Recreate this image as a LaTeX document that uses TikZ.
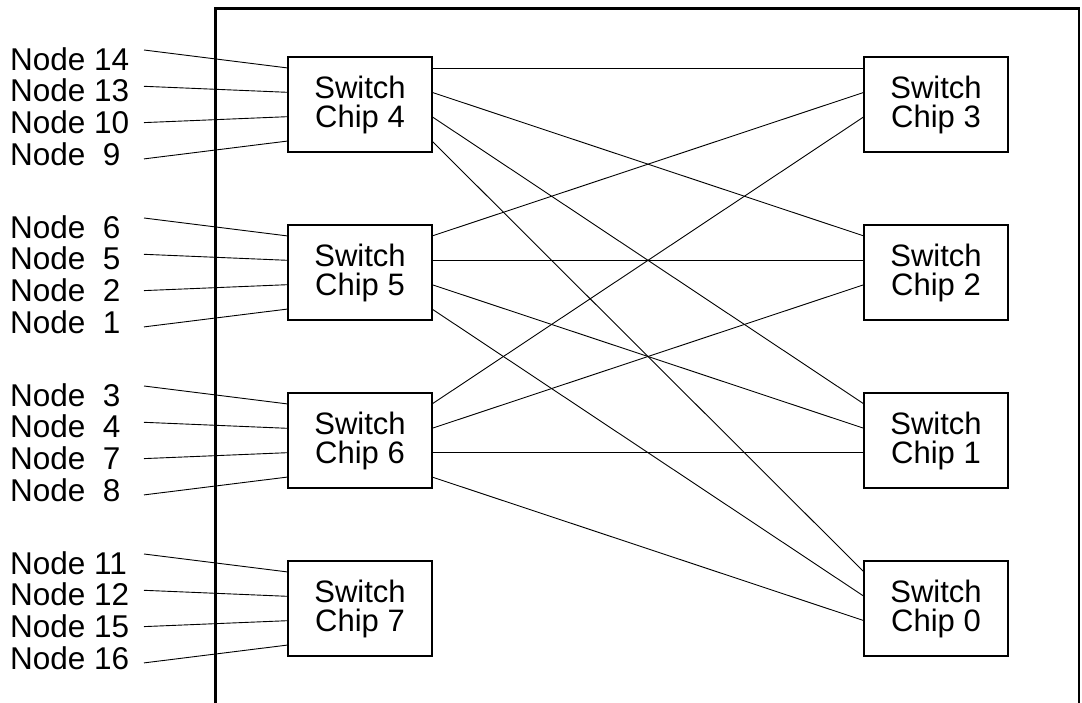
\documentclass[tikz,border=0pt]{standalone}
\usepackage{fontspec}
\setmainfont{Liberation Sans}
\begin{document}
\begin{tikzpicture}[x=1pt,y=-1pt,
  chip/.style={draw,line width=1.8pt,minimum width=144pt,minimum height=95pt,inner sep=0pt,outer sep=0pt,align=center,font=\fontsize{31}{29}\selectfont},
  lbl/.style={anchor=base west,inner sep=0pt,font=\fontsize{31.5}{37}\selectfont},
  wire/.style={line width=0.9pt},
  frame/.style={line width=2.6pt}]
\useasboundingbox (0,0) rectangle (1082,702);
\draw[frame] (215.5,712) -- (215.5,8.5) -- (1079,8.5) -- (1079,712);
% chips
\node[chip] (c4) at (360,104.5) {Switch\\Chip 4};
\node[chip] (c5) at (360,272.5) {Switch\\Chip 5};
\node[chip] (c6) at (360,440.5) {Switch\\Chip 6};
\node[chip] (c7) at (360,608.5) {Switch\\Chip 7};
\node[chip] (c3) at (936,104.5) {Switch\\Chip 3};
\node[chip] (c2) at (936,272.5) {Switch\\Chip 2};
\node[chip] (c1) at (936,440.5) {Switch\\Chip 1};
\node[chip] (c0) at (936,608.5) {Switch\\Chip 0};
% ports
\foreach \c in {0,...,7}{
  \foreach \k in {0,...,3}{
    \pgfmathsetmacro{\dy}{-(11+24.33*\k)}
    \coordinate (c\c w\k) at ([yshift=\dy pt]c\c.north west);
    \coordinate (c\c e\k) at ([yshift=\dy pt]c\c.north east);
  }
}
% labels and their lines
\foreach \c/\top/\la/\lb/\lc/\ld in {4/57/14/13/10/{\ 9},5/225/{\ 6}/{\ 5}/{\ 2}/{\ 1},6/393/{\ 3}/{\ 4}/{\ 7}/{\ 8},7/561/11/12/15/16}{
  \foreach \k/\t in {0/\la,1/\lb,2/\lc,3/\ld}{
    \pgfmathsetmacro{\by}{\top+13+31.8*\k}
    \pgfmathsetmacro{\sy}{\top-7+36.3*\k}
    \node[lbl] (n\c l\k) at (10,\by) {Node \t};
    \coordinate (s\c l\k) at (144,\sy);
    \draw[wire] (s\c l\k) -- (c\c w\k);
  }
}
% interconnect
\draw[wire] (c4e0) -- (c3w0);
\draw[wire] (c4e1) -- (c2w0);
\draw[wire] (c4e2) -- (c1w0);
\draw[wire] (c4e3) -- (c0w0);
\draw[wire] (c5e0) -- (c3w1);
\draw[wire] (c5e1) -- (c2w1);
\draw[wire] (c5e2) -- (c1w1);
\draw[wire] (c5e3) -- (c0w1);
\draw[wire] (c6e0) -- (c3w2);
\draw[wire] (c6e1) -- (c2w2);
\draw[wire] (c6e2) -- (c1w2);
\draw[wire] (c6e3) -- (c0w2);
\end{tikzpicture}
\end{document}
